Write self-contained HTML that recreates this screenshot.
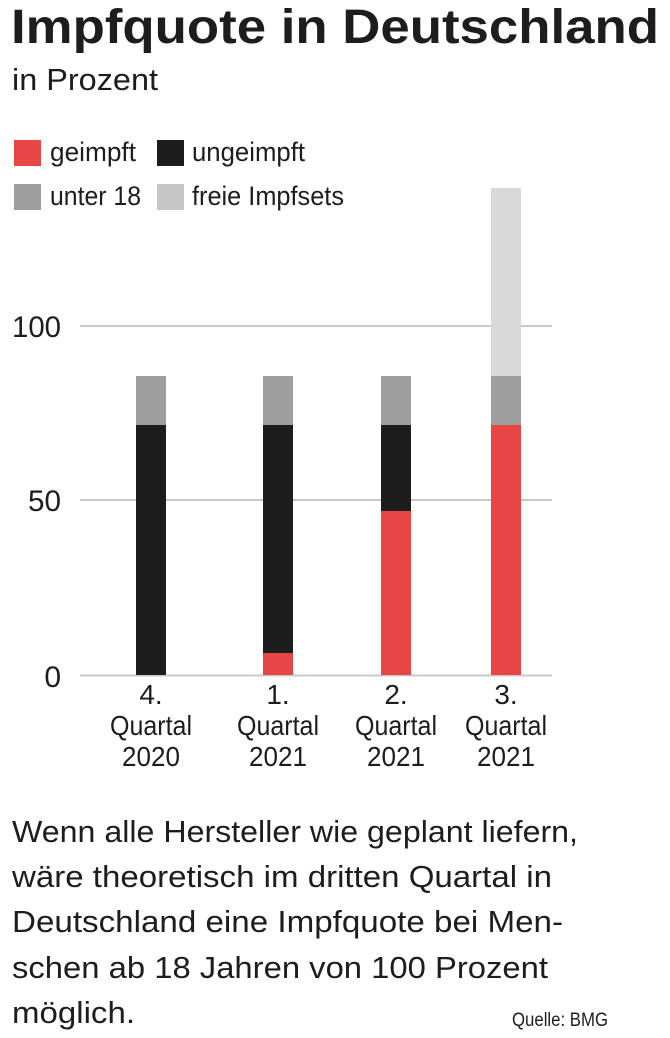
<!DOCTYPE html>
<html><head><meta charset="utf-8"><style>
html,body{margin:0;padding:0;background:#fff;}
svg{display:block;font-family:"Liberation Sans",sans-serif;}
</style></head><body>
<svg width="670" height="1038" viewBox="0 0 670 1038">
<text x="11" y="43" font-size="48" font-weight="bold" fill="#1d1d1d" textLength="648" lengthAdjust="spacingAndGlyphs">Impfquote in Deutschland</text>
<text x="12" y="90" font-size="31" fill="#1d1d1d" textLength="146" lengthAdjust="spacingAndGlyphs">in Prozent</text>
<rect x="14" y="140" width="27" height="26" fill="#e84545"/>
<text x="50" y="161" font-size="27" fill="#1d1d1d" textLength="86" lengthAdjust="spacingAndGlyphs">geimpft</text>
<rect x="157" y="140" width="27" height="26" fill="#1d1d1d"/>
<text x="192" y="161" font-size="27" fill="#1d1d1d" textLength="113" lengthAdjust="spacingAndGlyphs">ungeimpft</text>
<rect x="14" y="184" width="27" height="26" fill="#9e9e9e"/>
<text x="50" y="205" font-size="27" fill="#1d1d1d" textLength="91" lengthAdjust="spacingAndGlyphs">unter 18</text>
<rect x="157" y="184" width="27" height="26" fill="#c6c6c6"/>
<text x="192" y="205" font-size="27" fill="#1d1d1d" textLength="152" lengthAdjust="spacingAndGlyphs">freie Impfsets</text>
<line x1="80" y1="326" x2="552" y2="326" stroke="#c8c8c8" stroke-width="2"/>
<line x1="80" y1="500" x2="552" y2="500" stroke="#c8c8c8" stroke-width="2"/>
<line x1="80" y1="675.5" x2="552" y2="675.5" stroke="#c8c8c8" stroke-width="2"/>
<g font-size="30" fill="#1d1d1d" text-anchor="end">
<text x="61" y="337" textLength="49" lengthAdjust="spacingAndGlyphs">100</text><text x="61" y="511" textLength="33" lengthAdjust="spacingAndGlyphs">50</text><text x="61" y="687">0</text>
</g>
<rect x="136" y="376" width="30" height="49" fill="#9e9e9e"/>
<rect x="136" y="425" width="30" height="250" fill="#1d1d1d"/>
<rect x="263" y="376" width="30" height="49" fill="#9e9e9e"/>
<rect x="263" y="425" width="30" height="228" fill="#1d1d1d"/>
<rect x="263" y="653" width="30" height="22" fill="#e84545"/>
<rect x="381" y="376" width="30" height="49" fill="#9e9e9e"/>
<rect x="381" y="425" width="30" height="86" fill="#1d1d1d"/>
<rect x="381" y="511" width="30" height="164" fill="#e84545"/>
<rect x="491" y="188" width="30" height="188" fill="#d9d9d9"/>
<rect x="491" y="376" width="30" height="49" fill="#9e9e9e"/>
<rect x="491" y="425" width="30" height="250" fill="#e84545"/>
<g font-size="28" fill="#1d1d1d" text-anchor="middle">
<text x="151" y="704">4.</text><text x="151" y="735" textLength="82" lengthAdjust="spacingAndGlyphs">Quartal</text><text x="151" y="766" textLength="58" lengthAdjust="spacingAndGlyphs">2020</text>
<text x="278" y="704">1.</text><text x="278" y="735" textLength="82" lengthAdjust="spacingAndGlyphs">Quartal</text><text x="278" y="766" textLength="58" lengthAdjust="spacingAndGlyphs">2021</text>
<text x="396" y="704">2.</text><text x="396" y="735" textLength="82" lengthAdjust="spacingAndGlyphs">Quartal</text><text x="396" y="766" textLength="58" lengthAdjust="spacingAndGlyphs">2021</text>
<text x="506" y="704">3.</text><text x="506" y="735" textLength="82" lengthAdjust="spacingAndGlyphs">Quartal</text><text x="506" y="766" textLength="58" lengthAdjust="spacingAndGlyphs">2021</text>
</g>
<g font-size="31" fill="#1d1d1d">
<text x="12" y="842" textLength="566" lengthAdjust="spacingAndGlyphs">Wenn alle Hersteller wie geplant liefern,</text>
<text x="12" y="887" textLength="540" lengthAdjust="spacingAndGlyphs">wäre theoretisch im dritten Quartal in</text>
<text x="12" y="932" textLength="551" lengthAdjust="spacingAndGlyphs">Deutschland eine Impfquote bei Men-</text>
<text x="12" y="978" textLength="536" lengthAdjust="spacingAndGlyphs">schen ab 18 Jahren von 100 Prozent</text>
<text x="12" y="1023" textLength="123" lengthAdjust="spacingAndGlyphs">möglich.</text>
</g>
<text x="512" y="1026" font-size="19" fill="#1d1d1d" textLength="96" lengthAdjust="spacingAndGlyphs">Quelle: BMG</text>
</svg>
</body></html>
